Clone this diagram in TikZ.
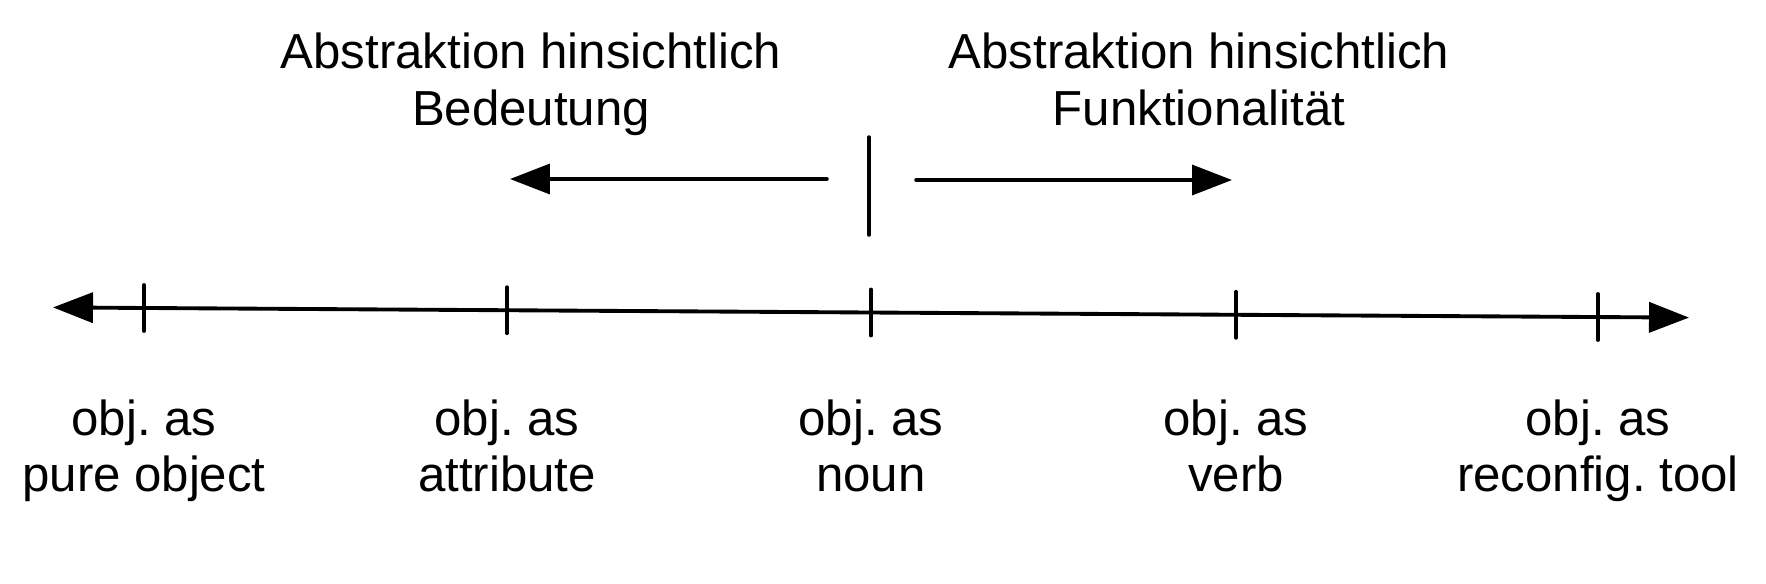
\documentclass[tikz,border=0pt]{standalone}
\usepackage{fontspec}
\setmainfont{Liberation Sans}
\usetikzlibrary{positioning,arrows.meta,calc}
\tikzset{
  axisline/.style={{Triangle[length=8mm,width=6mm]}-{Triangle[length=8mm,width=6mm]}, line width=2.2pt},
  tickmark/.style={line width=2.2pt, line cap=round},
  dirarrow/.style={-{Triangle[length=8mm,width=6mm]}, line width=2pt, line cap=round},
  stagelabel/.style={align=center, inner sep=0pt, anchor=base, font=\fontsize{28}{31.5}\selectfont\frenchspacing},
  headlabel/.style={align=center, inner sep=0pt, anchor=base, font=\fontsize{28}{32.3}\selectfont},
}

\begin{document}
\begin{tikzpicture}[x=0.02cm, y=-0.02cm]
  \useasboundingbox (0,0) rectangle (1766,583);
  % the scale
  \coordinate (axl) at (53,307.4);
  \coordinate (axr) at (1689,317.6);
  \draw[axisline] (axl) -- (axr);
  \foreach \name/\x/\y/\txt in {pure/144/308/pure object, attr/507/310.2/attribute,
      noun/871/312.5/noun, verb/1236/314.8/verb, tool/1598/317/reconfig. tool} {
    \coordinate (\name) at (\x,\y);
    \draw[tickmark] ($(\name)+(0,-23)$) -- ($(\name)+(0,23)$);
    \node[stagelabel] (\name-lbl) at (\x,491) {obj. as\\\txt};
  }
  % the two directions
  \coordinate (divtop) at (869,137);
  \coordinate (divbot) at (869,235);
  \draw[tickmark, line width=2pt] (divtop) -- (divbot);
  \coordinate (meanfrom) at (827,179);
  \coordinate (meanto) at (510,179);
  \coordinate (funcfrom) at (916,180);
  \coordinate (functo) at (1232,180);
  \draw[dirarrow] (meanfrom) -- (meanto);
  \draw[dirarrow] (funcfrom) -- (functo);
  \node[headlabel] (meaning) at (531,125) {Abstraktion hinsichtlich\\Bedeutung};
  \node[headlabel] (function) at (1199,125) {Abstraktion hinsichtlich\\Funktionalität};
\end{tikzpicture}
\end{document}
